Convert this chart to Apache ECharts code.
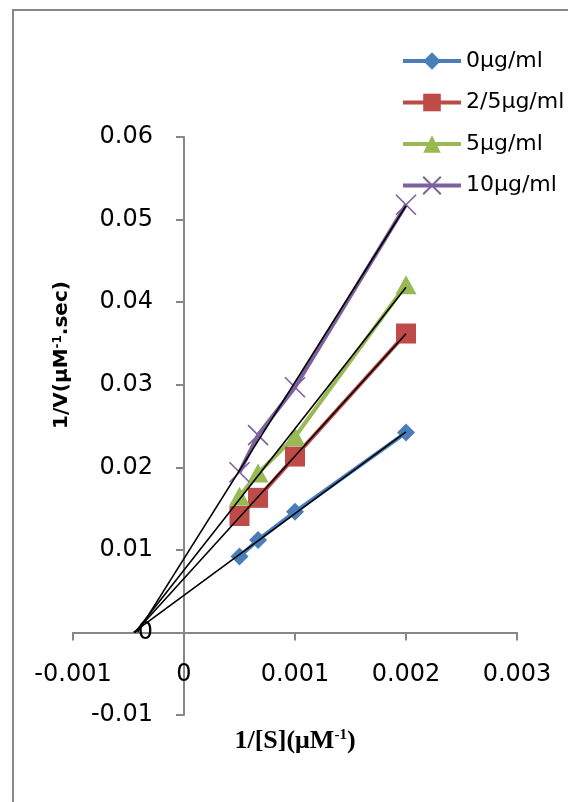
<!DOCTYPE html>
<html><head><meta charset="utf-8">
<script src="https://cdn.jsdelivr.net/npm/echarts@6/dist/echarts.min.js"></script>
<style>html,body{margin:0;padding:0;background:#fff}#c{width:568px;height:802px}</style>
</head><body><div id="c"></div>
<script>
// ---- data ----
const seriesNames = ['0μg/ml', '2/5μg/ml', '5μg/ml', '10μg/ml'];
const invS = [0.0005, 0.000667, 0.001, 0.002];
const invV_0 = [0.0092, 0.0112, 0.0146, 0.0242];
const invV_25 = [0.0141, 0.0163, 0.0213, 0.0362];
const invV_5 = [0.0165, 0.0193, 0.0237, 0.0421];
const invV_10 = [0.0194, 0.0239, 0.0297, 0.0518];
const xMin = -0.001, xMax = 0.003, xInterval = 0.001;
const yMin = -0.01, yMax = 0.06, yInterval = 0.01;
// ---- style ----
const colors = ['#4A7EBB', '#BE4B48', '#98B954', '#7D60A0'];
const symbols = ['diamond', 'rect', 'triangle', 'path://M0,0L20,20M20,0L0,20'];
const symbolSizes = [18, 20, [21, 19], 20];
const allY = [invV_0, invV_25, invV_5, invV_10];

function trend(xs, ys) {
  const n = xs.length;
  let mx = 0, my = 0;
  for (let i = 0; i < n; i++) { mx += xs[i]; my += ys[i]; }
  mx /= n; my /= n;
  let sxy = 0, sxx = 0;
  for (let i = 0; i < n; i++) { sxy += (xs[i] - mx) * (ys[i] - my); sxx += (xs[i] - mx) * (xs[i] - mx); }
  const m = sxy / sxx, b = my - m * mx;
  const xe = xs[n - 1];
  return [[-b / m, 0], [xe, m * xe + b]];
}

const series = [];
allY.forEach((ys, i) => {
  series.push({
    name: seriesNames[i], type: 'line',
    data: invS.map((x, j) => [x, ys[j]]),
    symbol: symbols[i], symbolSize: symbolSizes[i],
    lineStyle: { color: colors[i], width: 4 },
    itemStyle: i === 3 ? { color: colors[i], borderColor: colors[i], borderWidth: 1.6 } : { color: colors[i] },
    z: 2
  });
});
allY.forEach((ys, i) => {
  series.push({
    name: 'trend' + i, type: 'line', data: trend(invS, ys),
    symbol: 'none', lineStyle: { color: '#000', width: 1.6 }, z: 5, silent: true
  });
});

const axisColor = '#878787';
const chart = echarts.init(document.getElementById('c'));
chart.setOption({
  animation: false,
  backgroundColor: '#fff',
  grid: { left: 73, right: 51, top: 137, bottom: 87, containLabel: false, outerBoundsMode: 'none' },
  legend: {
    data: seriesNames, orient: 'vertical', left: 401, top: 50, padding: 0,
    itemWidth: 58, itemHeight: 22, itemGap: 19.5,
    lineStyle: { width: 4 },
    textStyle: { fontFamily: 'DejaVu Sans', fontSize: 22, color: '#000' }
  },
  xAxis: {
    type: 'value', min: xMin, max: xMax, interval: xInterval,
    axisLine: { onZero: true, lineStyle: { color: axisColor, width: 2 } },
    axisTick: { show: true, length: 8, lineStyle: { color: axisColor, width: 2 } },
    axisLabel: { margin: -52, fontFamily: 'DejaVu Sans', fontSize: 24, color: '#000' },
    splitLine: { show: false }
  },
  yAxis: {
    type: 'value', min: yMin, max: yMax, interval: yInterval,
    axisLine: { show: true, onZero: true, lineStyle: { color: axisColor, width: 2 } },
    axisTick: { show: true, length: 8, lineStyle: { color: axisColor, width: 2 } },
    axisLabel: { margin: -80, fontFamily: 'DejaVu Sans', fontSize: 24, color: '#000' },
    splitLine: { show: false }
  },
  graphic: [
    { type: 'rect', silent: true, shape: { x: 13, y: 10, width: 640, height: 900 },
      style: { fill: 'none', stroke: axisColor, lineWidth: 2 } },
    { type: 'text', x: 62, y: 355, rotation: Math.PI / 2, silent: true,
      style: { text: '{a|1/V(μM}{s|-1}{a|.sec)}', align: 'center', verticalAlign: 'middle',
        rich: { a: { fontFamily: 'DejaVu Sans', fontWeight: 'bold', fontSize: 20, fill: '#000' },
                s: { fontFamily: 'DejaVu Sans', fontWeight: 'bold', fontSize: 12, verticalAlign: 'top', fill: '#000' } } } },
    { type: 'text', x: 295, y: 741, silent: true,
      style: { text: '{a|1/[S](μM}{s|-1}{a|)}', align: 'center', verticalAlign: 'middle',
        rich: { a: { fontFamily: 'Liberation Serif', fontWeight: 'bold', fontSize: 26, fill: '#000' },
                s: { fontFamily: 'Liberation Serif', fontWeight: 'bold', fontSize: 15, verticalAlign: 'top', fill: '#000' } } } }
  ],
  series: series
});
</script></body></html>
